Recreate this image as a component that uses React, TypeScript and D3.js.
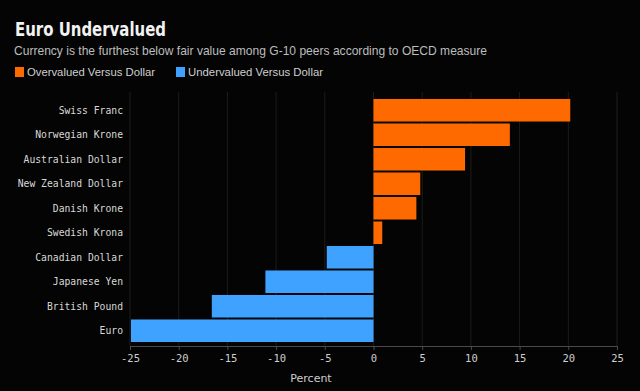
import React from "react";
import * as d3 from "d3";

const currencies = [
  "Swiss Franc",
  "Norwegian Krone",
  "Australian Dollar",
  "New Zealand Dollar",
  "Danish Krone",
  "Swedish Krona",
  "Canadian Dollar",
  "Japanese Yen",
  "British Pound",
  "Euro",
];
const values = [20.2, 14.0, 9.4, 4.8, 4.4, 0.9, -4.8, -11.1, -16.6, -24.9];
const tickValues = [-25, -20, -15, -10, -5, 0, 5, 10, 15, 20, 25];
const legendLabels = ["Overvalued Versus Dollar", "Undervalued Versus Dollar"];

const width = 640;
const height = 391;
const orange = "#ff6a00";
const blue = "#3fa2ff";
const mono = "'DejaVu Sans Mono', 'Liberation Mono', monospace";
const sans = "'DejaVu Sans', 'Liberation Sans', sans-serif";
const narrow = "'Liberation Sans', Arial, sans-serif";

export default function App() {
  const ref = React.useRef<SVGSVGElement>(null);

  React.useEffect(() => {
    document.body.style.margin = "0";
    const svg = d3.select(ref.current);
    svg.selectAll("*").remove();

    svg.append("rect").attr("width", width).attr("height", height).attr("fill", "#040404");

    // titulos
    svg
      .append("text")
      .attr("x", 15)
      .attr("y", 36)
      .attr("font-family", sans)
      .attr("font-weight", "bold")
      .attr("font-size", 19)
      .attr("fill", "#f2f2f2")
      .attr("textLength", 151)
      .attr("lengthAdjust", "spacingAndGlyphs")
      .text("Euro Undervalued");

    svg
      .append("text")
      .attr("x", 14)
      .attr("y", 55)
      .attr("font-family", narrow)
      .attr("font-size", 13)
      .attr("fill", "#bdbdbd")
      .attr("textLength", 473)
      .attr("lengthAdjust", "spacingAndGlyphs")
      .text("Currency is the furthest below fair value among G-10 peers according to OECD measure");

    // legenda
    const legendX = [15, 176];
    const legendW = [128, 135];
    legendLabels.forEach((label, i) => {
      svg
        .append("rect")
        .attr("x", legendX[i])
        .attr("y", 67)
        .attr("width", 9)
        .attr("height", 10)
        .attr("fill", i === 0 ? orange : blue);
      svg
        .append("text")
        .attr("x", legendX[i] + 12)
        .attr("y", 76)
        .attr("font-family", narrow)
        .attr("font-size", 10.5)
        .attr("fill", "#cfcfcf")
        .attr("textLength", legendW[i])
        .attr("lengthAdjust", "spacingAndGlyphs")
        .text(label);
    });

    const xScale = d3.scaleLinear().domain([-25, 25]).range([130, 617]);
    const yScale = d3
      .scaleBand<string>()
      .domain(currencies)
      .range([98, 343])
      .paddingInner(0.08)
      .paddingOuter(0.04);

    // grade
    svg
      .append("g")
      .selectAll("line")
      .data(tickValues)
      .enter()
      .append("line")
      .attr("x1", (d) => xScale(d))
      .attr("x2", (d) => xScale(d))
      .attr("y1", 92)
      .attr("y2", 346)
      .attr("stroke", "#1c1c1c")
      .attr("stroke-width", 1);

    // barras
    svg
      .append("g")
      .selectAll("rect")
      .data(values)
      .enter()
      .append("rect")
      .attr("x", (d) => xScale(Math.min(0, d)))
      .attr("y", (d, i) => yScale(currencies[i])!)
      .attr("width", (d) => Math.abs(xScale(d) - xScale(0)))
      .attr("height", yScale.bandwidth())
      .attr("fill", (d) => (d >= 0 ? orange : blue));

    // rotulos das categorias
    svg
      .append("g")
      .selectAll("text")
      .data(currencies)
      .enter()
      .append("text")
      .attr("x", 123)
      .attr("y", (d) => yScale(d)! + yScale.bandwidth() / 2)
      .attr("dy", "0.35em")
      .attr("text-anchor", "end")
      .attr("font-family", mono)
      .attr("font-size", 10.5)
      .attr("fill", "#d8d8d8")
      .attr("textLength", (d) => d.length * 5.85)
      .attr("lengthAdjust", "spacingAndGlyphs")
      .text((d) => d);

    // eixo x
    const xAxis = d3
      .axisBottom(xScale)
      .tickValues(tickValues)
      .tickSize(4)
      .tickSizeOuter(0)
      .tickFormat(d3.format("d"));

    const axis = svg.append("g").attr("transform", "translate(0, 346)").call(xAxis);
    axis.select(".domain").attr("stroke", "#4a4a4a");
    axis.selectAll(".tick line").attr("stroke", "#4a4a4a");
    axis
      .selectAll(".tick text")
      .attr("fill", "#cfcfcf")
      .attr("font-family", mono)
      .attr("font-size", 10.5)
      .attr("dy", "0.9em")
      .text((d: any) => String(d));

    svg
      .append("text")
      .attr("x", 311)
      .attr("y", 382)
      .attr("text-anchor", "middle")
      .attr("font-family", sans)
      .attr("font-size", 11)
      .attr("fill", "#cfcfcf")
      .text("Percent");
  }, []);

  return <svg ref={ref} width={width} height={height} style={{ display: "block" }} />;
}
